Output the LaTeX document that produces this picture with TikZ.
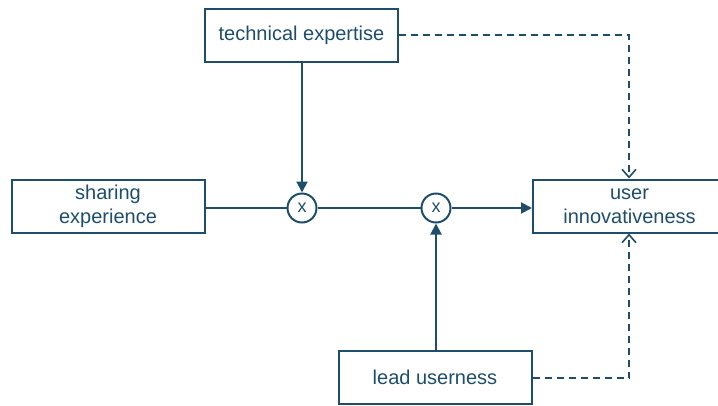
\documentclass[tikz,border=0pt]{standalone}
\usepackage{fontspec}
\setmainfont{Liberation Sans}
\usetikzlibrary{arrows.meta}
\definecolor{ink}{HTML}{1F4E6B}
\tikzset{
  box/.style={draw=ink, line width=2pt, fill=white, text=ink, align=center,
    minimum width=193pt, minimum height=53pt, inner sep=0pt,
    font=\fontsize{20}{24}\selectfont},
  mult/.style={draw=ink, line width=2pt, circle, minimum size=29pt, inner sep=0pt,
    text=ink, font=\fontsize{18}{18}\selectfont},
  flow/.style={draw=ink, line width=2pt, -{Triangle[length=11pt,width=11pt]}},
  link/.style={draw=ink, line width=2pt},
  effect/.style={draw=ink, line width=2pt, dash pattern=on 7pt off 5pt,
    -{Straight Barb[length=8pt,width=14pt,line width=1.6pt]}}
}
\begin{document}
\begin{tikzpicture}[x=1pt,y=-1pt]
  \useasboundingbox (0,0) rectangle (718,405);
  \node[box] (tech) at (301.5,35) {technical expertise};
  \node[box] (share) at (108,206) {sharing\\experience};
  \node[box] (user) at (629.5,206) {user\\innovativeness};
  \node[box] (lead) at (435,377) {lead userness};
  \node[mult] (m1) at (302,208) {x};
  \node[mult] (m2) at (436,208) {x};
  \coordinate (tr) at (629,35);
  \coordinate (lr) at (629,378);
  \draw[flow] (tech.south -| m1) -- (m1.north);
  \draw[link] (share.east |- m1) -- (m1.west);
  \draw[link] (m1.east) -- (m2.west);
  \draw[flow] (m2.east) -- (user.west |- m2);
  \draw[flow] (lead.north -| m2) -- (m2.south);
  \draw[effect] (tech.east |- tr) -- (tr) -- (tr |- user.north);
  \draw[effect] (lead.east |- lr) -- (lr) -- (lr |- user.south);
\end{tikzpicture}
\end{document}
